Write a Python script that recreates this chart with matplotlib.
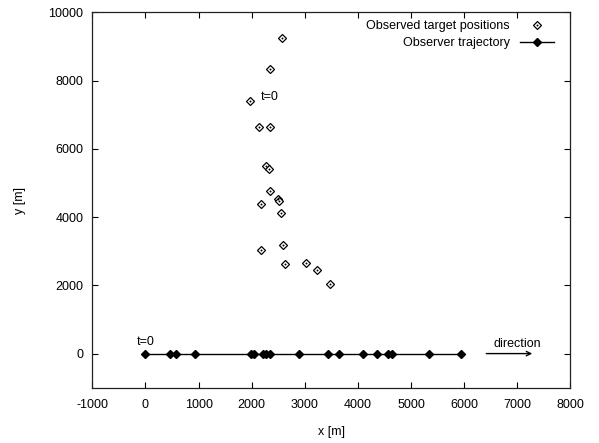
import matplotlib
matplotlib.use("Agg")
import matplotlib.pyplot as plt
from matplotlib.legend_handler import HandlerTuple

plt.rcParams['font.family'] = ['Liberation Sans', 'DejaVu Sans']
plt.rcParams['axes.unicode_minus'] = False

# Observed target positions [m]
target_x = [2571, 2350, 1973, 2137, 2337, 2269, 2318, 2337, 2488, 2507,
            2181, 2557, 2595, 2167, 2633, 3023, 3230, 3481]
target_y = [9255, 8328, 7408, 6645, 6645, 5493, 5396, 4768, 4516, 4475,
            4378, 4106, 3176, 3029, 2628, 2657, 2443, 2053]

# Observer trajectory [m]
observer_x = [0, 466, 579, 942, 1992, 2049, 2205, 2275, 2344, 2884,
              3438, 3651, 4097, 4367, 4561, 4650, 5334, 5931]
observer_y = [0] * len(observer_x)

xticks = list(range(-1000, 8001, 1000))
yticks = list(range(0, 10001, 2000))

fig = plt.figure(figsize=(5.99, 4.43), dpi=100)
ax = fig.add_axes([0.1541, 0.1248, 0.7983, 0.8474])

obs_line, = ax.plot(observer_x, observer_y, color='black', lw=1.0,
                    marker='D', markersize=4.2, markerfacecolor='black',
                    markeredgecolor='black')
tgt, = ax.plot(target_x, target_y, linestyle='none', marker='D',
               markersize=4.4, markerfacecolor='white',
               markeredgecolor='black', markeredgewidth=0.9)
dot, = ax.plot(target_x, target_y, linestyle='none', marker='o',
               markersize=1.0, markerfacecolor='black',
               markeredgecolor='black', markeredgewidth=0.3)

ax.annotate('', xy=(7280, 0), xytext=(6415, 0),
            arrowprops=dict(arrowstyle='->', lw=1.0, color='black',
                            shrinkA=0, shrinkB=0, mutation_scale=8))
ax.text(7000, 180, 'direction', ha='center', va='baseline', fontsize=9)
ax.text(0, 243, 't=0', ha='center', va='baseline', fontsize=9)
ax.text(2340, 7428, 't=0', ha='center', va='baseline', fontsize=9)

ax.set_xlim(-1000, 8000)
ax.set_ylim(-1000, 10000)
ax.set_xticks(xticks)
ax.set_yticks(yticks)
ax.tick_params(direction='in', length=4, width=0.8, top=True, right=True,
               labelsize=9, colors='black')
ax.tick_params(axis='x', pad=8)
ax.tick_params(axis='y', pad=6.5)
for s in ax.spines.values():
    s.set_linewidth(0.9)
    s.set_color('#222222')

ax.set_xlabel('x [m]', fontsize=9, labelpad=11)
ax.set_ylabel('y [m]', fontsize=9, labelpad=16)

ax.legend([(tgt, dot), obs_line],
          ['Observed target positions', 'Observer trajectory'],
          handler_map={tuple: HandlerTuple(ndivide=1)},
          loc='upper right', bbox_to_anchor=(0.99, 1.009), frameon=False,
          markerfirst=False, handlelength=2.75, fontsize=9,
          labelspacing=0.4, handletextpad=0.8, numpoints=1)

fig.savefig('out.png', dpi=100)
